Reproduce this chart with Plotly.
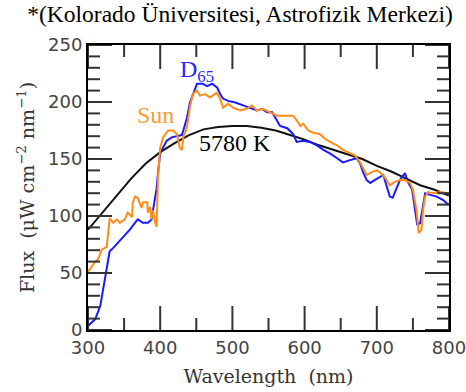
import plotly.graph_objects as go

# Blackbody 5780 K
bb_wl = [300, 320, 340, 360, 380, 400, 420, 440, 460, 480, 500, 520, 540, 560, 580,
         600, 620, 640, 660, 680, 700, 720, 740, 760, 780, 800]
bb_flux = [88, 103, 119, 133, 146, 156, 164, 171, 176, 178, 179, 179, 177.5, 175, 171,
           167, 162, 158, 154, 150, 144, 139, 133, 127, 123, 118]

# D65 (blue)
d65_wl = [300, 310, 317, 321, 325, 328, 330, 335, 342, 349, 358, 365, 369, 376, 383, 388,
          391, 395, 397, 400, 404, 409, 416, 423, 430, 432, 437, 441, 448, 451, 459, 465,
          472, 479, 483, 487, 494, 504, 515, 524, 534, 541, 548, 555, 562, 566, 576, 584,
          589, 598, 607, 617, 626, 635, 645, 653, 663, 672, 677, 681, 686, 691, 697, 704,
          709, 714, 718, 722, 728, 732, 739, 743, 749, 753, 756, 760, 764, 767, 774, 783,
          792, 799]
d65_flux = [3.5, 9.6, 21, 35.7, 50.5, 62, 69, 72, 77, 82, 88, 94, 97, 94, 94, 97,
            108, 124, 138, 155, 160, 166, 169, 170, 171, 175, 186, 199, 212, 216, 216, 214,
            216, 212.5, 207, 203, 201, 199.5, 197, 195, 192.5, 194, 191, 191, 184, 179, 177, 172,
            165, 166, 165, 162, 158, 155, 150.7, 147, 149, 150.7, 146, 138.5, 131.5, 129, 131.5, 134,
            136, 125.4, 117, 116, 124.6, 131.5, 137.6, 130, 123, 105, 92, 94, 108, 120, 118.5, 117,
            114, 110]

# Sun (orange)
sun_wl = [300, 305, 310, 314, 319, 326, 328, 330, 335, 340, 344, 351, 355, 361, 362, 365,
          369, 372, 374, 376, 382, 383, 386, 388, 390, 393, 395, 397, 400, 404, 411, 418,
          423, 425, 427, 430, 432, 437, 441, 445, 451, 455, 462, 469, 478, 483, 487, 494,
          501, 511, 520, 527, 534, 542, 552, 562, 570, 584, 589, 594, 598, 605, 612, 621,
          628, 635, 645, 653, 660, 670, 677, 681, 686, 693, 700, 704, 711, 718, 725, 732,
          739, 746, 750, 755, 758, 762, 764, 767, 771, 778, 788, 799]
sun_flux = [51, 56, 60, 62, 70.5, 73, 88, 98, 94, 97, 94, 97, 103, 99, 111.5, 117,
            116, 111.5, 107, 112, 112, 103, 108, 97, 105, 94, 90.6, 135, 160, 169, 175, 175,
            172, 166, 160, 157.7, 169, 177.7, 195, 207, 210, 205.6, 207, 204, 208, 203, 195, 198.6,
            195, 192.5, 194, 197, 192.5, 194, 191, 188, 188, 188, 184, 179, 181, 175, 173, 172,
            168, 165, 162, 158, 156, 153, 147, 142, 136, 138.5, 140, 138.5, 134, 127, 130, 131.5,
            131.5, 129, 123, 105, 85, 88, 105, 117, 121, 120, 121, 120]

x_range = [300, 800]
y_range = [0, 250]
x_major_ticks = [300, 400, 500, 600, 700, 800]
x_minor_ticks = [350, 450, 550, 650, 750]
y_major_ticks = [0, 50, 100, 150, 200, 250]
y_minor_ticks = [v for v in range(10, 250, 10) if v % 50 != 0]

title_text = "*(Kolorado Üniversitesi, Astrofizik Merkezi)"
x_title = "Wavelength  (nm)"
y_title = "Flux  (μW cm<sup>−2</sup> nm<sup>−1</sup>)"

SERIF = "Liberation Serif"
DSERIF = "DejaVu Serif"
SANS = "DejaVu Sans"

W, H = 466, 392
ML, MR, MT, MB = 88, 17, 45, 62
plot_w = W - ML - MR
plot_h = H - MT - MB
MAJOR_PX, MINOR_PX = 24, 12
TICK_STYLE = dict(color="#333", width=2)

fig = go.Figure()
fig.add_trace(go.Scatter(x=bb_wl, y=bb_flux, mode="lines", name="5780 K",
                         line=dict(color="#111111", width=2)))
fig.add_trace(go.Scatter(x=d65_wl, y=d65_flux, mode="lines", name="D65",
                         line=dict(color="#1a1aff", width=2)))
fig.add_trace(go.Scatter(x=sun_wl, y=sun_flux, mode="lines", name="Sun",
                         line=dict(color="#ff8c1a", width=2)))

fig.add_annotation(x=451, y=227, text="D<sub>65</sub>", showarrow=False,
                   font=dict(family=SERIF, size=24, color="#2a2aff"))
fig.add_annotation(x=393, y=189, text="Sun", showarrow=False,
                   font=dict(family=SERIF, size=24, color="#ff9a33"))
fig.add_annotation(x=504, y=164, text="5780 K", showarrow=False,
                   font=dict(family=SERIF, size=24, color="black"))

# Inward tick marks on all four sides, as shapes in data units built from the tick lists
for xt, yt, lp in [(x_major_ticks, y_major_ticks, MAJOR_PX), (x_minor_ticks, y_minor_ticks, MINOR_PX)]:
    ly = (y_range[1] - y_range[0]) / plot_h * lp
    lx = (x_range[1] - x_range[0]) / plot_w * lp
    for x in xt:
        fig.add_shape(type="line", xref="x", yref="y", x0=x, x1=x, y0=y_range[0], y1=y_range[0] + ly,
                      line=TICK_STYLE, layer="above")
        fig.add_shape(type="line", xref="x", yref="y", x0=x, x1=x, y0=y_range[1], y1=y_range[1] - ly,
                      line=TICK_STYLE, layer="above")
    for y in yt:
        fig.add_shape(type="line", xref="x", yref="y", x0=x_range[0], x1=x_range[0] + lx, y0=y, y1=y,
                      line=TICK_STYLE, layer="above")
        fig.add_shape(type="line", xref="x", yref="y", x0=x_range[1], x1=x_range[1] - lx, y0=y, y1=y,
                      line=TICK_STYLE, layer="above")

axis_common = dict(
    showline=True, linecolor="black", linewidth=2, mirror=True,
    ticks="", showgrid=False, zeroline=False,
    tickfont=dict(family=SANS, size=18, color="#444"),
    ticklabeloverflow="allow",
)

fig.update_layout(
    template="none",
    showlegend=False,
    width=W, height=H,
    margin=dict(l=ML, r=MR, t=MT, b=MB),
    title=dict(text=title_text, x=240 / W, xanchor="center", y=1 - 14 / H, yanchor="middle",
               font=dict(family=SERIF, size=23.5, color="black")),
    xaxis=dict(range=x_range, tickvals=x_major_ticks,
               title=dict(text=x_title, font=dict(family=DSERIF, size=19, color="#333"), standoff=13),
               **axis_common),
    yaxis=dict(range=y_range, tickvals=y_major_ticks,
               title=dict(text=y_title, font=dict(family=DSERIF, size=19, color="#333"), standoff=8),
               **axis_common),
)

fig.write_html("out.html")
